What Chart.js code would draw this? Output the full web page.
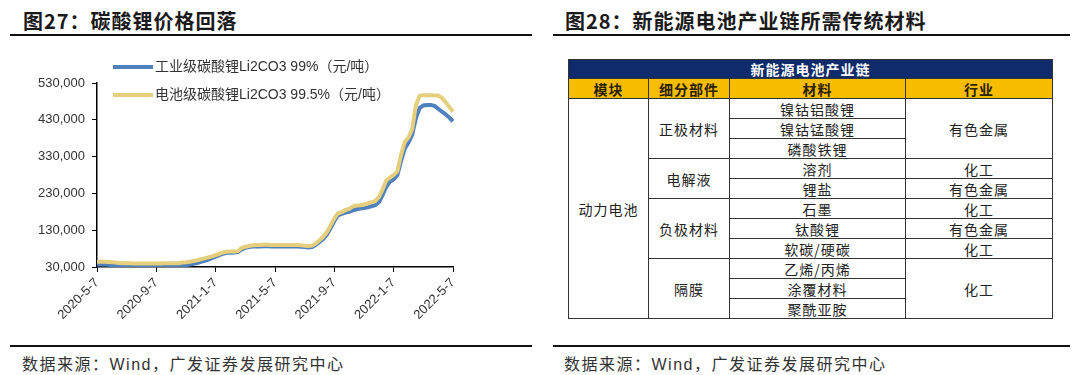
<!DOCTYPE html>
<html>
<head>
<meta charset="utf-8">
<script src="https://cdn.jsdelivr.net/npm/chart.js@4.4.1/dist/chart.umd.min.js"></script>
<style>
  body { margin: 0; width: 1080px; height: 375px; background: #fff; position: relative; overflow: hidden;
         font-family: "Liberation Sans", "Noto Sans CJK SC", sans-serif; }
  .title { position: absolute; top: 6px; font-family: "Noto Sans CJK SC", sans-serif; font-weight: 700;
           font-size: 20px; color: #1a1a1a; letter-spacing: 1px; }
  .rule { position: absolute; height: 2px; background: #111; }
  .source { position: absolute; top: 351px; font-size: 16px; color: #333; letter-spacing: 1.5px;
            font-family: "Liberation Sans", "Noto Sans CJK SC", sans-serif; }
  #chartBox { position: absolute; left: 0; top: 40px; width: 540px; height: 305px; }
  table { position: absolute; left: 568px; top: 59px; width: 484px; border-collapse: collapse; table-layout: fixed;
          font-family: "Noto Sans CJK SC", sans-serif; font-size: 14px; color: #222; }
  td { border: 1px solid #333; text-align: center; padding: 0; height: 19px; line-height: 18px; letter-spacing: 1px; }
  .top td { background: #0f2b6b; color: #fff; font-weight: 700; height: 18px; }
  .head td { background: #f9bd00; font-weight: 700; height: 19px; color: #2a2200; }
</style>
</head>
<body>
<div class="title" style="left:23px">图27：碳酸锂价格回落</div>
<div class="rule" style="left:10px; width:522px; top:34px"></div>
<div id="chartBox"><canvas id="priceChart"></canvas></div>
<div class="rule" style="left:10px; width:522px; top:345px"></div>
<div class="source" style="left:22px">数据来源：Wind，广发证券发展研究中心</div>

<div class="title" style="left:565px">图28：新能源电池产业链所需传统材料</div>
<div class="rule" style="left:553px; width:517px; top:34px"></div>
<table>
  <colgroup><col style="width:80px"><col style="width:81px"><col style="width:176px"><col style="width:147px"></colgroup>
  <tr class="top"><td colspan="4">新能源电池产业链</td></tr>
  <tr class="head"><td>模块</td><td>细分部件</td><td>材料</td><td>行业</td></tr>
  <tr><td rowspan="11">动力电池</td><td rowspan="3">正极材料</td><td>镍钴铝酸锂</td><td rowspan="3">有色金属</td></tr>
  <tr><td>镍钴锰酸锂</td></tr>
  <tr><td>磷酸铁锂</td></tr>
  <tr><td rowspan="2">电解液</td><td>溶剂</td><td>化工</td></tr>
  <tr><td>锂盐</td><td>有色金属</td></tr>
  <tr><td rowspan="3">负极材料</td><td>石墨</td><td>化工</td></tr>
  <tr><td>钛酸锂</td><td>有色金属</td></tr>
  <tr><td>软碳/硬碳</td><td>化工</td></tr>
  <tr><td rowspan="3">隔膜</td><td>乙烯/丙烯</td><td rowspan="3">化工</td></tr>
  <tr><td>涂覆材料</td></tr>
  <tr><td>聚酰亚胺</td></tr>
</table>
<div class="rule" style="left:553px; width:517px; top:345px"></div>
<div class="source" style="left:564px">数据来源：Wind，广发证券发展研究中心</div>

<script>
// weekly points (7th, 14th, 21st, 28th of each month)
const dates = [];
for (let y = 2020; y <= 2022; y++) {
  for (let m = 1; m <= 12; m++) {
    if (y === 2020 && m < 5) continue;
    if (y === 2022 && m > 4) break;
    [7, 14, 21, 28].forEach(d => dates.push(y + "-" + m + "-" + d));
  }
}
dates.push("2022-5-7");

const tickLabels = ["2020-5-7", "2020-9-7", "2021-1-7", "2021-5-7", "2021-9-7", "2022-1-7", "2022-5-7"];

const seriesNames = ["工业级碳酸锂Li2CO3 99%（元/吨）", "电池级碳酸锂Li2CO3 99.5%（元/吨）"];

const industrialPrice = [
  37000, 37000, 36500, 36000, 35000, 34000, 33500,
  33000, 33000, 32500, 32500, 32500, 32500, 32500, 32500, 32500, 32500, 32500, 33000, 33000, 33000, 33000, 33500,
  34000, 35000, 36500, 38500, 41000, 44000, 47000, 50000, 54000, 58000, 62000, 66000, 68500, 69000, 69500, 70500,
  78000, 82000, 84000, 85500, 86000,
  86000, 86500, 86500, 86000, 86000, 86000, 86000, 86000, 85500, 85500, 85500, 85000,
  84000, 83000, 84000, 90000, 98000, 106000, 118000, 136000, 155000, 170000, 174000, 178000, 180000, 184000,
  187000, 189000, 190000, 192000, 195000, 198000, 206000, 225000, 248000, 262000, 268000, 280000, 318000,
  352000, 368000, 390000, 435000, 462000, 469000, 470000, 470000, 468000, 460000, 452000, 445000, 436000, 426000
];

const batteryPrice = [
  44000, 44000, 44000, 43500, 43000, 42000, 41000,
  40000, 40000, 40000, 39500, 39500, 39500, 39500, 39500, 39500, 39500, 39500, 40000, 40000, 40000, 40000, 40500,
  42000, 43000, 44500, 46500, 48500, 51000, 53500, 56000, 59000, 62500, 66000, 69500, 71500, 72000, 72000, 73000,
  82000, 85000, 87000, 89000, 90000,
  90000, 90500, 90500, 90000, 90000, 90000, 90000, 90000, 89500, 89500, 89500, 89000,
  88000, 87000, 88000, 94000, 103000, 112000, 125000, 143000, 162000, 176000, 179000, 185000, 188000, 195000,
  197000, 198000, 200000, 203000, 206000, 209000, 220000, 240000, 265000, 273000, 280000, 290000, 335000,
  370000, 382000, 405000, 470000, 495000, 497000, 497000, 497000, 496000, 496000, 490000, 478000, 465000, 452000
];

const lineColors = ["#4f81bd", "#e6cf7c"];

// legend drawn inside the plot, top-left
const insideLegend = {
  id: "insideLegend",
  afterDraw(chart) {
    const ctx = chart.ctx;
    const rows = [27, 55];
    ctx.save();
    chart.data.datasets.forEach((ds, i) => {
      ctx.strokeStyle = ds.borderColor;
      ctx.lineWidth = 4;
      ctx.beginPath();
      ctx.moveTo(113, rows[i]);
      ctx.lineTo(153, rows[i]);
      ctx.stroke();
      ctx.fillStyle = "#333";
      ctx.font = '14px "Liberation Sans", "Noto Sans CJK SC"';
      ctx.textBaseline = "middle";
      ctx.fillText(ds.label, 155, rows[i]);
    });
    ctx.restore();
  }
};

const tickFont = { family: '"Liberation Sans", Arial, sans-serif', size: 13 };

new Chart(document.getElementById("priceChart"), {
  type: "line",
  data: {
    labels: dates,
    datasets: [
      { label: seriesNames[0], data: industrialPrice, borderColor: lineColors[0], borderWidth: 4, pointRadius: 0, order: 1 },
      { label: seriesNames[1], data: batteryPrice, borderColor: lineColors[1], borderWidth: 4, pointRadius: 0, order: 0 }
    ]
  },
  options: {
    responsive: true,
    maintainAspectRatio: false,
    animation: false,
    layout: { padding: { top: 43, right: 87, left: 0, bottom: 0 } },
    plugins: { legend: { display: false }, tooltip: { enabled: false } },
    scales: {
      x: {
        afterFit: s => { s.height = 78; },
        border: { display: true, color: "#000", width: 1.5 },
        grid: {
          drawOnChartArea: false,
          drawTicks: true,
          tickLength: 5,
          color: ctx => tickLabels.includes(dates[ctx.index]) ? "#000" : "rgba(0,0,0,0)"
        },
        ticks: {
          autoSkip: false,
          minRotation: 45,
          maxRotation: 45,
          color: "#333",
          font: tickFont,
          callback: (v, i) => tickLabels.includes(dates[i]) ? dates[i] : ""
        }
      },
      y: {
        min: 30000,
        max: 530000,
        afterFit: s => { s.width = 97; },
        border: { display: true, color: "#000", width: 1.5 },
        grid: { drawOnChartArea: false, drawTicks: true, tickLength: 5, color: "#000" },
        ticks: {
          stepSize: 100000,
          padding: 7,
          color: "#333",
          font: tickFont,
          callback: v => v.toLocaleString("en-US")
        }
      }
    }
  },
  plugins: [insideLegend]
});
</script>
</body>
</html>
